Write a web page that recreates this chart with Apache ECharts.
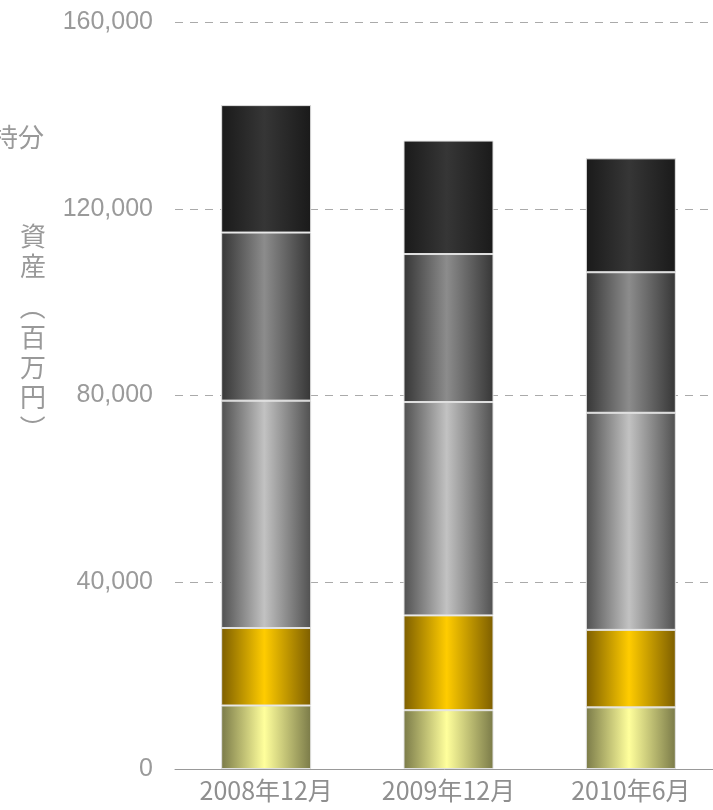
<!DOCTYPE html>
<html>
<head>
<meta charset="utf-8">
<script src="https://cdn.jsdelivr.net/npm/echarts@6/dist/echarts.min.js"></script>
<style>
  html, body { margin: 0; padding: 0; background: #fff; }
  #chart { width: 713px; height: 810px; }
</style>
</head>
<body>
<div id="chart"></div>
<script>
const categories = ["2008年12月", "2009年12月", "2010年6月"];

// stacked from bottom to top
const seg1 = [13600, 12600, 13200];
const seg2 = [16600, 20300, 16600];
const seg3 = [48700, 45700, 46500];
const seg4 = [36000, 31700, 30100];
const seg5 = [27300, 24300, 24400];

const yTicks = [0, 40000, 80000, 120000, 160000];

const chart = echarts.init(document.getElementById("chart"));

// horizontal "cylinder" shading: dark edges, bright middle
const shade = (edge, mid) => new echarts.graphic.LinearGradient(0, 0, 1, 0, [
  { offset: 0, color: edge },
  { offset: 0.48, color: mid },
  { offset: 1, color: edge }
]);

const fills = [
  shade("#7a7a48", "#ffff9c"),
  shade("#7d5e00", "#ffcc00"),
  shade("#505050", "#c2c2c2"),
  shade("#363636", "#8c8c8c"),
  shade("#1a1a1a", "#363636")
];

const segs = [seg1, seg2, seg3, seg4, seg5];

const nameFont = "26px 'Noto Sans CJK JP'";
const nameText = (text, x, y, extra) => Object.assign({
  type: "text",
  x: x,
  y: y,
  style: { text: text, fill: "#999", font: nameFont, lineHeight: 30, textAlign: "center" }
}, extra || {});

const option = {
  animation: false,
  backgroundColor: "#fff",
  grid: { left: 175, width: 547, top: 22, bottom: 41, outerBoundsMode: "none" },
  graphic: [
    {
      type: "text",
      x: 44,
      y: 124,
      style: { text: "持分", fill: "#999", font: nameFont, textAlign: "right" }
    },
    // y axis title, set vertically: 資産（百万円）
    nameText("資\n産", 33, 221),
    nameText("（", 33, 307, { rotation: -Math.PI / 2, originX: 0, originY: 0,
      style: { text: "（", fill: "#999", font: nameFont, textAlign: "center", textVerticalAlign: "middle" } }),
    nameText("百\n万\n円", 33, 322),
    nameText("）", 33, 428, { rotation: -Math.PI / 2, originX: 0, originY: 0,
      style: { text: "）", fill: "#999", font: nameFont, textAlign: "center", textVerticalAlign: "middle" } })
  ],
  xAxis: {
    type: "category",
    data: categories,
    axisLine: { lineStyle: { color: "#999", width: 1 } },
    axisTick: { inside: true, length: 8, lineStyle: { color: "#999" } },
    axisLabel: {
      color: "#8f8f8f",
      fontSize: 25,
      fontFamily: "'Noto Sans CJK JP'",
      margin: 9
    }
  },
  yAxis: {
    type: "value",
    min: yTicks[0],
    max: yTicks[yTicks.length - 1],
    interval: 40000,
    axisLine: { show: false },
    axisTick: { show: false },
    axisLabel: {
      color: "#9a9a9a",
      fontSize: 25,
      fontFamily: "'Liberation Sans'",
      margin: 22,
      formatter: v => v.toLocaleString("en-US")
    },
    splitLine: {
      lineStyle: { color: "#aaa", type: [8, 7], width: 1 }
    }
  },
  series: segs.map((d, i) => ({
    name: "s" + (i + 1),
    type: "bar",
    stack: "total",
    barWidth: 90,
    data: d,
    itemStyle: {
      color: fills[i],
      borderColor: "#e2e2e2",
      borderWidth: 1
    }
  }))
};

chart.setOption(option);
</script>
</body>
</html>
